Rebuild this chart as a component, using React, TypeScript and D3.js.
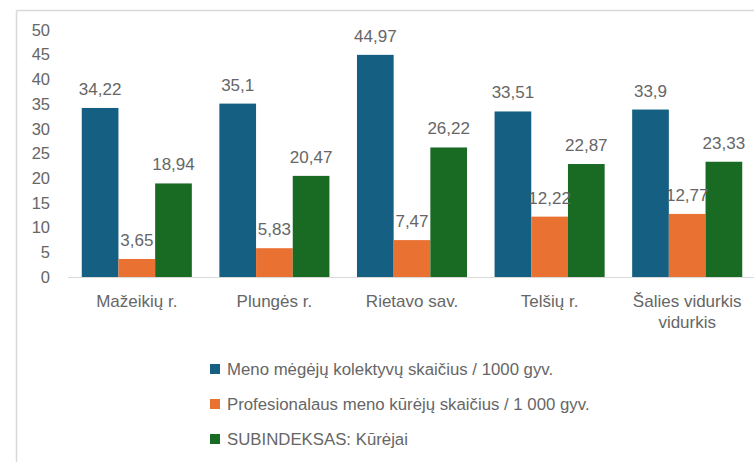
import React from "react";
import * as d3 from "d3";

const categories = ["Mažeikių r.", "Plungės r.", "Rietavo sav.", "Telšių r.", "Šalies vidurkis vidurkis"];
const seriesNames = [
  "Meno mėgėjų kolektyvų skaičius / 1000 gyv.",
  "Profesionalaus meno kūrėjų skaičius / 1 000 gyv.",
  "SUBINDEKSAS: Kūrėjai",
];
const meno = [34.22, 35.1, 44.97, 33.51, 33.9];
const prof = [3.65, 5.83, 7.47, 12.22, 12.77];
const sub = [18.94, 20.47, 26.22, 22.87, 23.33];
const yTicks = [0, 5, 10, 15, 20, 25, 30, 35, 40, 45, 50];
const colors = ["#156082", "#E97132", "#196B24"];

const W = 754;
const H = 462;
const FONT = "'Liberation Sans', Arial, sans-serif";
const TEXT = "#666666";

function wrap(label: string, maxChars: number): string[] {
  const words = label.split(" ");
  const lines: string[] = [];
  let cur = "";
  for (const w of words) {
    const next = cur ? cur + " " + w : w;
    if (next.length > maxChars && cur) {
      lines.push(cur);
      cur = w;
    } else cur = next;
  }
  if (cur) lines.push(cur);
  return lines;
}

export default function App() {
  const series = [meno, prof, sub];
  const x0 = d3.scaleBand<string>().domain(categories).range([68, 756]).paddingInner(0.2).paddingOuter(0.1);
  const x1 = d3.scaleBand<number>().domain([0, 1, 2]).range([0, x0.bandwidth()]).padding(0);
  const y = d3.scaleLinear().domain([0, 50]).range([277, 30]);
  const fmt = (v: number) => String(v).replace(".", ",");

  return (
    <svg width={W} height={H} style={{ position: "absolute", left: 0, top: 0, background: "#fff" }} fontFamily={FONT}>
      {/* frame */}
      <line x1={16.5} y1={10.5} x2={W} y2={10.5} stroke="#d9d9d9" strokeWidth={1.5} />
      <line x1={16.5} y1={10.5} x2={16.5} y2={H} stroke="#d9d9d9" strokeWidth={1.5} />

      {/* y axis labels */}
      {yTicks.map((t) => (
        <text key={t} x={50} y={y(t)} dy="0.35em" textAnchor="end" fontSize={16.5} fill={TEXT}>
          {t}
        </text>
      ))}

      {/* bars */}
      {categories.map((c, ci) => (
        <g key={c} transform={`translate(${x0(c)},0)`}>
          {series.map((s, si) => (
            <rect
              key={si}
              x={x1(si)}
              y={y(s[ci])}
              width={x1.bandwidth()}
              height={y(0) - y(s[ci])}
              fill={colors[si]}
            />
          ))}
          {series.map((s, si) => (
            <text
              key={"l" + si}
              x={(x1(si) as number) + x1.bandwidth() / 2}
              y={y(s[ci]) - 13}
              textAnchor="middle"
              fontSize={17}
              fill={TEXT}
            >
              {fmt(s[ci])}
            </text>
          ))}
        </g>
      ))}

      {/* x axis line */}
      <line x1={68} x2={W} y1={277.5} y2={277.5} stroke="#d9d9d9" strokeWidth={1} />

      {/* category labels */}
      {categories.map((c) => {
        const cx = (x0(c) as number) + x0.bandwidth() / 2;
        return (
          <text key={c} x={cx} y={307} textAnchor="middle" fontSize={17} fill={TEXT}>
            {wrap(c, 16).map((ln, i) => (
              <tspan key={i} x={cx} dy={i === 0 ? 0 : 21}>
                {ln}
              </tspan>
            ))}
          </text>
        );
      })}

      {/* legend */}
      {seriesNames.map((n, i) => (
        <g key={n} transform={`translate(210,${369 + i * 35})`}>
          <rect x={0} y={-5} width={10} height={10} fill={colors[i]} />
          <text x={17} y={0} dy="0.35em" fontSize={16.8} fill={TEXT}>
            {n}
          </text>
        </g>
      ))}
    </svg>
  );
}
